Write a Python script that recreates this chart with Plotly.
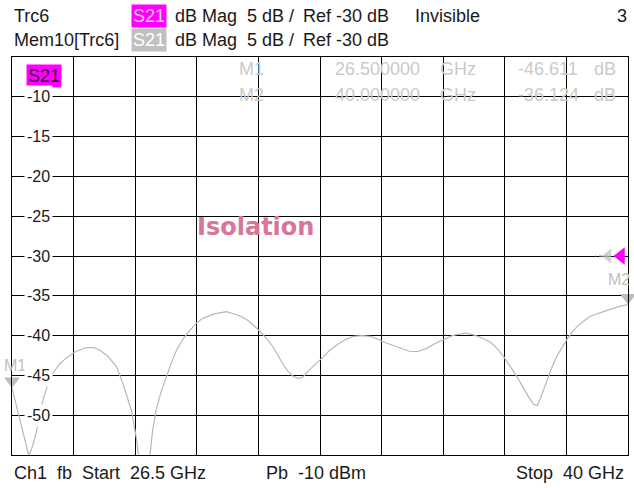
"""
Network analyzer style isolation plot (S21, dB Mag) rebuilt in Plotly.
"""

import plotly.graph_objects as go

# Trace data (Mem10[Trc6], S21 dB Mag)
freq_ghz = [
    26.50, 26.58, 26.67, 26.77, 26.87, 26.95, 27.03, 27.10, 27.18, 27.28,
    27.40, 27.54, 27.69, 27.90, 28.13, 28.28, 28.42, 28.60, 28.79, 28.93,
    29.03, 29.12, 29.23, 29.30, 29.45, 29.52, 29.58, 29.66, 29.77, 29.88,
    30.00, 30.10, 30.25, 30.40, 30.55, 30.69, 30.91, 31.20, 31.49, 31.65,
    31.78, 31.97, 32.10, 32.22, 32.33, 32.44, 32.55, 32.66, 32.77, 32.88,
    33.00, 33.10, 33.20, 33.32, 33.45, 33.61, 33.80, 33.98, 34.17, 34.35,
    34.50, 34.64, 34.82, 35.00, 35.22, 35.40, 35.59, 35.77, 35.95, 36.15,
    36.32, 36.46, 36.61, 36.80, 36.98, 37.13, 37.27, 37.38, 37.49, 37.60,
    37.71, 37.82, 37.93, 38.01, 38.08, 38.15, 38.22, 38.33, 38.44, 38.55,
    38.66, 38.77, 38.88, 39.02, 39.17, 39.35, 39.54, 39.77, 40.00,
]
isolation_db = [
    -46.6, -48.4, -50.4, -52.9, -55.1, -53.9, -52.2, -50.2, -48.1, -46.2,
    -44.7, -43.6, -42.8, -42.0, -41.5, -41.5, -41.8, -42.6, -43.9, -46.0,
    -47.7, -49.5, -53.0, -56.5, -57.0, -55.2, -52.0, -49.3, -47.0, -45.2,
    -43.3, -41.9, -40.4, -39.3, -38.4, -37.8, -37.3, -37.0, -37.5, -38.0,
    -38.6, -39.7, -40.5, -41.4, -42.5, -43.6, -44.5, -45.1, -45.4, -45.2,
    -44.4, -43.8, -43.3, -42.7, -41.9, -41.2, -40.5, -40.1, -40.0, -40.1,
    -40.4, -40.8, -41.2, -41.6, -42.0, -42.0, -41.6, -41.0, -40.5, -40.0,
    -39.8, -39.7, -39.9, -40.3, -40.8, -41.6, -42.6, -43.5, -44.5, -45.5,
    -46.6, -47.7, -48.6, -48.8, -47.9, -46.8, -45.6, -44.0, -42.6, -41.5,
    -40.5, -39.6, -38.9, -38.2, -37.6, -37.2, -36.8, -36.4, -36.1,
]

y_ticks = [-10, -15, -20, -25, -30, -35, -40, -45, -50]

marker_names = ["M1", "M2"]
marker_freq = [26.5, 40.0]
marker_db = [-46.611, -36.124]

start_ghz = 26.5
stop_ghz = 40.0
ref_db = -30.0
scale_db = 5.0

COLORS = {
    "grid": "#000000",
    "text": "#1a1a1a",
    "trace": "#b8b8b8",
    "magenta": "#ff00ff",
    "mem": "#c0c0c0",
    "marker_text": "#cacaca",
    "isolation": "#d9759a",
}

FONT = "Liberation Sans, Arial, sans-serif"

# plot area in pixels (for placing screen text)
L, T, W, H = 12, 57, 616, 398


def px(x):
    return (x - L) / W


def py(y):
    return 1 - (y - T) / H


fig = go.Figure()

fig.add_trace(
    go.Scatter(
        x=freq_ghz,
        y=isolation_db,
        mode="lines",
        line=dict(color=COLORS["trace"], width=1.2),
        hoverinfo="skip",
        showlegend=False,
    )
)

# marker triangles (tip sits on the trace value)
tip_offset = 0.9
fig.add_trace(
    go.Scatter(
        x=marker_freq,
        y=[v + tip_offset for v in marker_db],
        mode="markers",
        marker=dict(symbol="triangle-down", size=14, color="#bdbdbd", line=dict(width=0)),
        cliponaxis=False,
        hoverinfo="skip",
        showlegend=False,
    )
)

# reference level arrows at right edge
px_per_ghz = W / (stop_ghz - start_ghz)
fig.add_trace(
    go.Scatter(
        x=[stop_ghz - 7 / px_per_ghz],
        y=[ref_db],
        mode="markers",
        marker=dict(symbol="triangle-left", size=15, color=COLORS["magenta"], line=dict(width=0)),
        cliponaxis=False,
        hoverinfo="skip",
        showlegend=False,
    )
)
fig.add_trace(
    go.Scatter(
        x=[stop_ghz - 20 / px_per_ghz, stop_ghz - 33 / px_per_ghz],
        y=[ref_db, ref_db],
        mode="lines+markers",
        line=dict(color="#999999", width=1, dash="dot"),
        marker=dict(symbol="triangle-left", size=[13, 0], color="#bdbdbd", line=dict(width=0)),
        cliponaxis=False,
        hoverinfo="skip",
        showlegend=False,
    )
)

annotations = []


def add_text(text, x, y, color=COLORS["text"], size=18, anchor="left", **kw):
    annotations.append(dict(
        text=text, x=px(x), y=py(y), xref="paper", yref="paper",
        xanchor=anchor, yanchor="middle", showarrow=False,
        font=dict(family=FONT, size=size, color=color), **kw,
    ))


# header lines
add_text("Trc6", 12, 16)
add_text("S21", 131, 16, color="#ffc8ff", bgcolor=COLORS["magenta"], borderpad=1)
add_text("dB Mag", 173, 16)
add_text("%g dB /" % scale_db, 245, 16)
add_text("Ref %g dB" % ref_db, 301, 16)
add_text("Invisible", 413, 16)
add_text("3", 629, 16, anchor="right")

add_text("Mem10[Trc6]", 12, 40)
add_text("S21", 131, 40, color="#ffffff", bgcolor=COLORS["mem"], borderpad=1)
add_text("dB Mag", 173, 40)
add_text("%g dB /" % scale_db, 245, 40)
add_text("Ref %g dB" % ref_db, 301, 40)

# footer
add_text("Ch1  fb  Start  %g GHz" % start_ghz, 12, 473)
add_text("Pb  -10 dBm", 264, 473)
add_text("Stop  %g GHz" % stop_ghz, 626, 473, anchor="right")

# marker readout (faded)
for i, (name, f, v) in enumerate(zip(marker_names, marker_freq, marker_db)):
    yy = 69 + 26 * i
    add_text(name, 237, yy, color=COLORS["marker_text"])
    add_text("%.6f" % f, 333, yy, color=COLORS["marker_text"])
    add_text("GHz", 438, yy, color=COLORS["marker_text"])
    add_text("%.3f" % v, 516, yy, color=COLORS["marker_text"])
    add_text("dB", 592, yy, color=COLORS["marker_text"])

# trace label inside the diagram
add_text("S21", 26, 76, color="#330033", bgcolor=COLORS["magenta"], borderpad=1)

# marker labels
add_text("M1", 2, 365, color="#c0c0c0", size=16)
add_text("M2", 632, 279, color="#c0c0c0", size=16, anchor="right")

# title-ish label
add_text("<b>Isolation</b>", 255, 227, color=COLORS["isolation"], size=24,
         anchor="center")
annotations[-1]["font"]["family"] = "DejaVu Sans, Verdana, sans-serif"

# y tick labels drawn inside the grid
for t in y_ticks:
    annotations.append(dict(
        text=str(t), x=px(38), y=t, xref="paper", yref="y",
        xanchor="center", yanchor="middle", showarrow=False,
        bgcolor="white", borderpad=2,
        font=dict(family=FONT, size=16, color=COLORS["text"]),
    ))

fig.update_xaxes(
    range=[start_ghz, stop_ghz],
    tick0=start_ghz,
    dtick=(stop_ghz - start_ghz) / 10,
    showgrid=True,
    gridcolor=COLORS["grid"],
    gridwidth=1,
    showline=True,
    linecolor=COLORS["grid"],
    linewidth=1,
    mirror=True,
    showticklabels=False,
    ticks="",
    zeroline=False,
)
fig.update_yaxes(
    range=[ref_db - 5 * scale_db, ref_db + 5 * scale_db],
    tick0=ref_db,
    dtick=scale_db,
    showgrid=True,
    gridcolor=COLORS["grid"],
    gridwidth=1,
    showline=True,
    linecolor=COLORS["grid"],
    linewidth=1,
    mirror=True,
    showticklabels=False,
    ticks="",
    zeroline=False,
)

fig.update_layout(
    width=634,
    height=488,
    margin=dict(l=L, r=634 - L - W, t=T, b=488 - T - H),
    paper_bgcolor="white",
    plot_bgcolor="white",
    annotations=annotations,
    showlegend=False,
)

# drop the default page margin so the figure fills the window exactly
fig.write_html(
    "out.html",
    config={"displayModeBar": False},
    post_script="document.body.style.margin = '0';",
)
